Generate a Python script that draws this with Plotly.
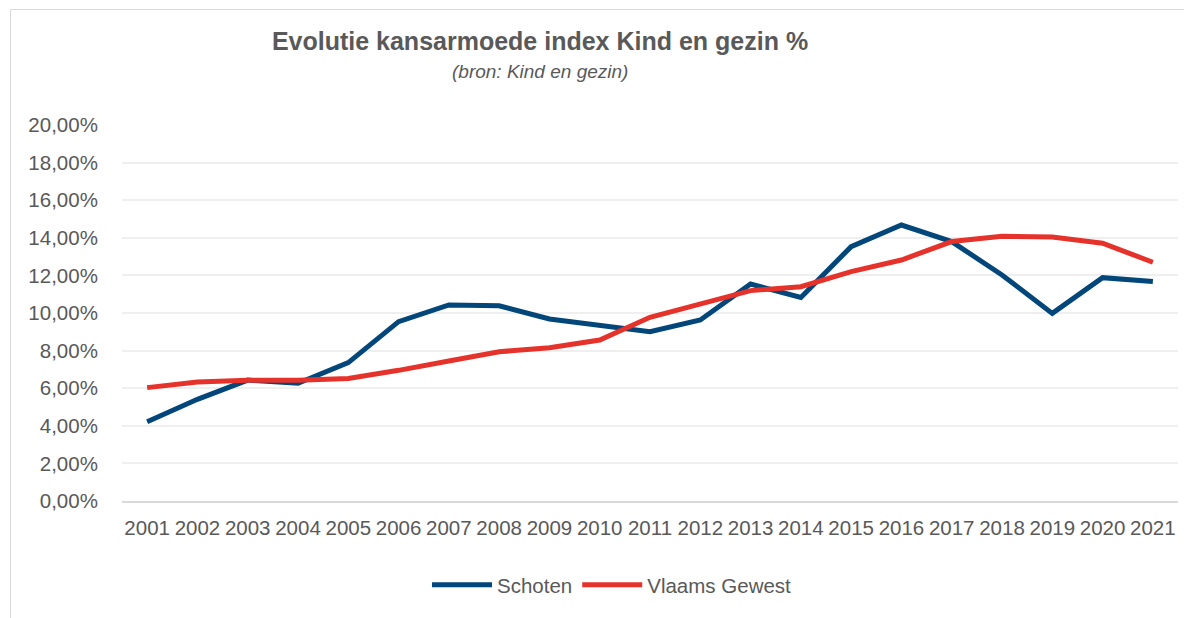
import plotly.graph_objects as go

years = [str(y) for y in range(2001, 2022)]
schoten = [4.22, 5.41, 6.43, 6.26, 7.36, 9.54, 10.43, 10.38, 9.68, 9.33, 9.00,
           9.63, 11.54, 10.83, 13.53, 14.68, 13.80, 12.02, 9.98, 11.88, 11.67]
vlaams = [6.03, 6.33, 6.42, 6.42, 6.52, 6.95, 7.45, 7.94, 8.15, 8.56, 9.77,
          10.46, 11.19, 11.40, 12.20, 12.82, 13.80, 14.08, 14.04, 13.71, 12.70]
y_ticks = [0, 2, 4, 6, 8, 10, 12, 14, 16, 18, 20]

schoten_f = [v / 100 for v in schoten]
vlaams_f = [v / 100 for v in vlaams]
tickvals = [v / 100 for v in y_ticks]

OFF = 8  # page body margin
W, H = 1192 - OFF, 618 - OFF
L, T = 122 - OFF, 125 - OFF
R = W - (1178 - OFF)
B = H - (501 - OFF)
pw, ph = W - L - R, H - T - B

def px2x(px):
    return (px - OFF - L) / pw

def py2y(py):
    return 1 - (py - OFF - T) / ph

FONT = "Liberation Sans, Arial, sans-serif"
GREY = "#595959"

fig = go.Figure()
fig.add_trace(go.Scatter(x=years, y=schoten_f, mode="lines", name="Schoten",
                         line=dict(color="#02467A", width=5)))
fig.add_trace(go.Scatter(x=years, y=vlaams_f, mode="lines", name="Vlaams Gewest",
                         line=dict(color="#E5322B", width=5)))

fig.update_layout(
    width=W, height=H,
    margin=dict(l=L, r=R, t=T, b=B),
    paper_bgcolor="white", plot_bgcolor="white",
    separators=",.",
    font=dict(family=FONT, color=GREY, size=20),
    title=dict(text="<b>Evolutie kansarmoede index Kind en gezin %</b>",
               xref="container", yref="container",
               x=(540 - OFF) / W, xanchor="center", y=1 - (41 - OFF) / H, yanchor="middle",
               font=dict(family=FONT, size=25, color=GREY)),
    annotations=[dict(text="<i>(bron: Kind en gezin)</i>", xref="paper", yref="paper",
                      x=px2x(540), y=py2y(71), showarrow=False,
                      xanchor="center", yanchor="middle",
                      font=dict(family=FONT, size=19, color=GREY))],
    legend=dict(orientation="h", xanchor="center", yanchor="middle",
                x=px2x(612), y=py2y(585), font=dict(size=20.5, color=GREY),
                itemwidth=60, tracegroupgap=0),
    shapes=[dict(type="rect", xref="paper", yref="paper",
                 x0=px2x(10.5), x1=px2x(1300), y0=py2y(700), y1=py2y(9.5),
                 line=dict(color="#D9D9D9", width=1), fillcolor="rgba(0,0,0,0)",
                 layer="below")],
    showlegend=True,
)

fig.update_xaxes(type="category", range=[-0.5, 20.5], showgrid=False,
                 showline=True, linecolor="#D9D9D9", linewidth=1.5,
                 ticks="outside", ticklen=8, tickcolor="rgba(0,0,0,0)",
                 tickfont=dict(size=20.5, color=GREY), tickangle=0)
fig.update_yaxes(range=[0, 0.2], tickvals=tickvals, tickformat=".2%",
                 showgrid=True, gridcolor="#EFEFEF", gridwidth=1.5,
                 zeroline=False, showline=False,
                 ticks="outside", ticklen=19, tickcolor="rgba(0,0,0,0)",
                 tickfont=dict(size=20.5, color=GREY))

fig.write_html("out.html")
